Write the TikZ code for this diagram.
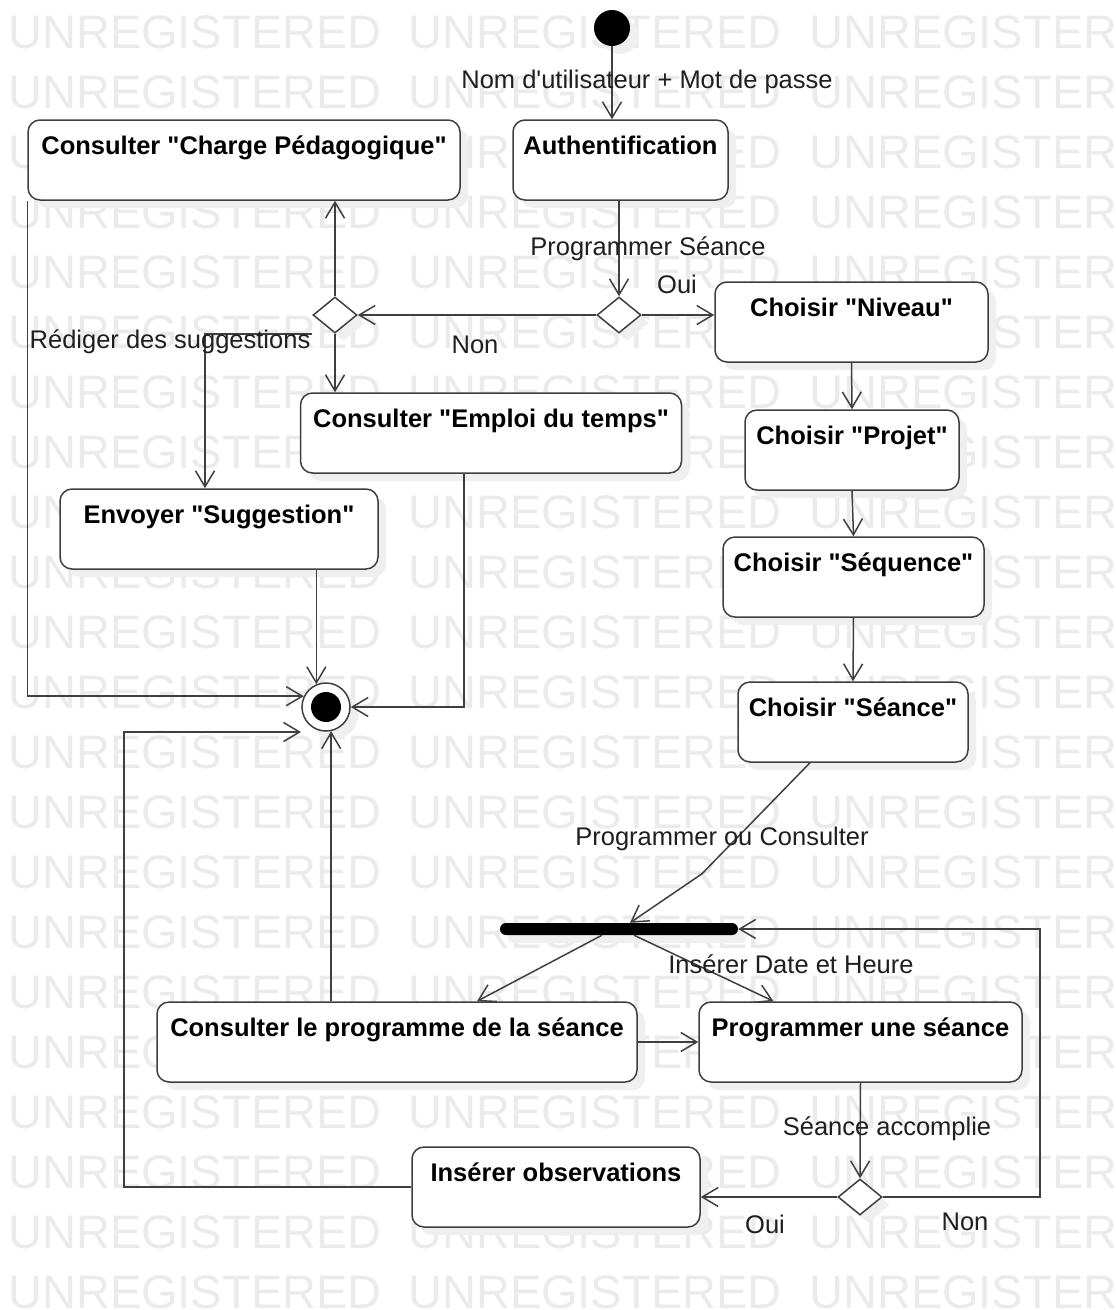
\documentclass[tikz,border=0pt]{standalone}
\usepackage{fontspec}
\setmainfont{Liberation Sans}[Ligatures=TeXOff]
\usetikzlibrary{arrows.meta,shapes.geometric,calc,shadows}
\definecolor{ln}{HTML}{3F3F3F}
\definecolor{wm}{HTML}{EBEBEB}
\definecolor{sh}{HTML}{EFEFEF}
\begin{document}
\begin{tikzpicture}[x=1pt,y=-1pt,
  shd/.style={general shadow={fill=sh, shadow xshift=8pt, shadow yshift=-8pt}},
  act/.style={draw=ln, line width=1.5pt, rounded corners=12pt, fill=white, shd,
    font=\fontsize{25.5}{30}\selectfont\bfseries, inner xsep=0pt, inner ysep=0pt,
    text height=34pt, text depth=46pt, anchor=base},
  dia/.style={diamond, draw=ln, line width=1.5pt, fill=white, shd,
    minimum width=44pt, minimum height=36pt, inner sep=0pt},
  lbl/.style={anchor=base, inner sep=0pt, font=\fontsize{25.5}{30}\selectfont, text=black!88},
  wmk/.style={anchor=base west, inner sep=0pt, font=\fontsize{47}{50}\selectfont, text=wm},
  arr/.style={draw=ln, line width=1.5pt, -{Straight Barb[length=16pt,width=19pt]}}]
\fill[white] (0,0) rectangle (1116,1310);
\useasboundingbox (0,0) rectangle (1116,1310);
% watermark
\begin{scope}
\clip (0,0) rectangle (1116,1310);
\foreach \k in {0,...,21}{
  \foreach \x in {8,408,809}{
    \node[wmk] (wm\k-\x) at (\x,48+60*\k) {UNREGISTERED};
  }
}
\end{scope}
% initial and final nodes
\node[circle, fill=black, minimum size=36pt, inner sep=0pt, shd] (ini) at (612,28) {};
\node[circle, draw=ln, line width=1.5pt, fill=white, minimum size=48pt, inner sep=0pt, shd,
  path picture={\fill[black] (path picture bounding box.center) circle (15pt);}] (fin) at (326,707) {};
% activities
\node[act, minimum width=432pt] (cp) at (244,154) {Consulter "Charge Pédagogique"};
\node[act, minimum width=215pt] (auth) at (620.5,154) {Authentification};
\node[act, minimum width=273pt] (niv) at (851.5,316) {Choisir "Niveau"};
\node[act, minimum width=214pt] (proj) at (852,444) {Choisir "Projet"};
\node[act, minimum width=261pt] (seq) at (853.5,571) {Choisir "Séquence"};
\node[act, minimum width=230pt] (sea) at (853,716) {Choisir "Séance"};
\node[act, minimum width=381pt] (emp) at (491,427) {Consulter "Emploi du temps"};
\node[act, minimum width=318pt] (env) at (219,523) {Envoyer "Suggestion"};
\node[act, minimum width=480pt] (cprog) at (397,1036) {Consulter le programme de la séance};
\node[act, minimum width=323pt] (prog) at (860.5,1036) {Programmer une séance};
\node[act, minimum width=288pt] (ins) at (556,1181) {Insérer observations};
% decisions
\node[dia] (d1) at (619,315) {};
\node[dia] (d2) at (335,315) {};
\node[dia] (d3) at (860,1197) {};
% fork bar
\node[fill=black, rounded corners=6pt, minimum width=238pt, minimum height=12pt, inner sep=0pt, shd] (fork) at (619,929) {};
% connectors
\draw[arr] (ini) -- (ini |- auth.north);
\draw[arr] (auth.south -| d1) -- (d1.north);
\draw[arr] (d1.east) -- (d1.east -| niv.west);
\draw[arr] (d1.west) -- (d2.east);
\draw[arr] (d2.north) -- (d2.north |- cp.south);
\draw[arr] (d2.south) -- (d2.south |- emp.north);
\draw[arr] (d2.west |- d2.south) -| ($(env.north)+(-14,0)$);
\draw[arr] (cp.south west) |- (fin.154);
\draw[arr] (env.south -| fin.113) -- (fin.113);
\draw[arr] ($(emp.south)+(-27,0)$) |- (fin.east);
\draw[arr] (ins.west) -| ($(fin.center)+(-202,25)$) -- ($(fin.center)+(-25,25)$);
\draw[arr] (fin.-78 |- cprog.north) -- (fin.-78);
\draw[arr] (niv.south) -- (proj.north);
\draw[arr] (proj.south) -- (seq.north);
\draw[arr] (seq.south) -- (sea.north);
\draw[arr] ($(sea.south)+(-43,0)$) -- ($(sea.south)+(-151,111)$) -- ($(fork.north)+(11,0)$);
\draw[arr] ($(fork.south)+(-17,0)$) -- ($(cprog.north)+(80,0)$);
\draw[arr] ($(fork.south)+(15,0)$) -- ($(prog.north)+(-87,0)$);
\draw[arr] (cprog.east) -- (prog.west);
\draw[arr] (prog.south) -- (d3.north);
\draw[arr] (d3.west) -- (d3.west -| ins.east);
\draw[arr] (d3.east) -- ++(157,0) |- (fork.east);
% labels
\node[lbl] (lnom) at (647,88) {Nom d'utilisateur + Mot de passe};
\node[lbl] (lprs) at (648,255) {Programmer Séance};
\node[lbl] (loui1) at (677,293) {Oui};
\node[lbl] (lnon1) at (475,353) {Non};
\node[lbl] (lred) at (170,348) {Rédiger des suggestions};
\node[lbl] (lpoc) at (722,845) {Programmer ou Consulter};
\node[lbl] (lide) at (791,973) {Insérer Date et Heure};
\node[lbl] (lsa) at (887,1135) {Séance accomplie};
\node[lbl] (loui2) at (765,1233) {Oui};
\node[lbl] (lnon2) at (965,1230) {Non};
\end{tikzpicture}
\end{document}
